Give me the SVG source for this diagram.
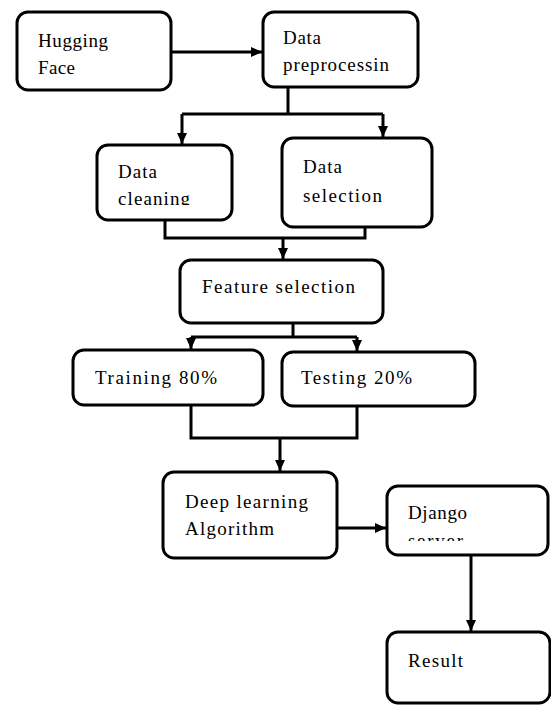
<svg xmlns="http://www.w3.org/2000/svg" width="551" height="706" viewBox="0 0 551 706">
<style>
.box{fill:#fff;stroke:#000;stroke-width:3}
.t{font-family:"Liberation Serif","DejaVu Serif",serif;font-size:19px;fill:#000}
.c{fill:none;stroke:#000;stroke-width:3}
</style>
<defs>
<marker id="ah" markerUnits="userSpaceOnUse" markerWidth="12" markerHeight="12" viewBox="0 0 12 12" refX="11" refY="6" orient="auto">
<path d="M0,1 L11,6 L0,11 Z" fill="#000"/>
</marker>
<clipPath id="clipClean"><rect x="100" y="148" width="130" height="57"/></clipPath>
<clipPath id="clipServer"><rect x="390" y="489" width="155" height="52"/></clipPath>
</defs>
<rect width="551" height="706" fill="#fff"/>
<g id="connectors">
<path class="c" d="M171,52 H262" marker-end="url(#ah)"/>
<path class="c" d="M288,87 V114"/>
<path class="c" d="M182,114 H383"/>
<path class="c" d="M182,114 V144" marker-end="url(#ah)"/>
<path class="c" d="M383,114 V137" marker-end="url(#ah)"/>
<path class="c" d="M165,220 V238 H365 V227"/>
<path class="c" d="M283,238 V259" marker-end="url(#ah)"/>
<path class="c" d="M293,323 V337"/>
<path class="c" d="M191,337 H357"/>
<path class="c" d="M191,337 V349" marker-end="url(#ah)"/>
<path class="c" d="M357,337 V351" marker-end="url(#ah)"/>
<path class="c" d="M191,405 V438 H357 V406"/>
<path class="c" d="M280,438 V471" marker-end="url(#ah)"/>
<path class="c" d="M337,528 H386" marker-end="url(#ah)"/>
<path class="c" d="M471,555 V631" marker-end="url(#ah)"/>
</g>
<g id="hugging-face">
<rect class="box" x="17" y="12" width="154" height="78" rx="11"/>
<text class="t" x="38" y="47" textLength="70">Hugging</text>
<text class="t" x="38" y="74" textLength="37">Face</text>
</g>
<g id="data-preprocessing">
<rect class="box" x="263" y="12" width="155" height="75" rx="11"/>
<text class="t" x="283" y="44" textLength="38">Data</text>
<text class="t" x="283" y="71" textLength="106">preprocessin</text>
</g>
<g id="data-cleaning">
<rect class="box" x="97" y="145" width="135" height="75" rx="11"/>
<text class="t" x="118" y="178" textLength="39">Data</text>
<text class="t" x="118" y="205" clip-path="url(#clipClean)" textLength="72">cleaning</text>
</g>
<g id="data-selection">
<rect class="box" x="282" y="138" width="150" height="89" rx="11"/>
<text class="t" x="303" y="173" textLength="39">Data</text>
<text class="t" x="303" y="202" textLength="79">selection</text>
</g>
<g id="feature-selection">
<rect class="box" x="180" y="260" width="203" height="63" rx="11"/>
<text class="t" x="202" y="293" textLength="153">Feature selection</text>
</g>
<g id="training">
<rect class="box" x="73" y="350" width="190" height="55" rx="11"/>
<text class="t" x="95" y="384" textLength="122">Training 80%</text>
</g>
<g id="testing">
<rect class="box" x="282" y="352" width="193" height="54" rx="11"/>
<text class="t" x="301" y="384" textLength="111">Testing 20%</text>
</g>
<g id="deep-learning">
<rect class="box" x="163" y="472" width="174" height="86" rx="11"/>
<text class="t" x="185" y="508" textLength="123">Deep learning</text>
<text class="t" x="185" y="535" textLength="89">Algorithm</text>
</g>
<g id="django-server">
<rect class="box" x="387" y="486" width="161" height="69" rx="11"/>
<text class="t" x="408" y="519" textLength="59">Django</text>
<text class="t" x="408" y="547" clip-path="url(#clipServer)" textLength="55">server</text>
</g>
<g id="result">
<rect class="box" x="387" y="632" width="163" height="71" rx="11"/>
<text class="t" x="408" y="667" textLength="55">Result</text>
</g>
</svg>
